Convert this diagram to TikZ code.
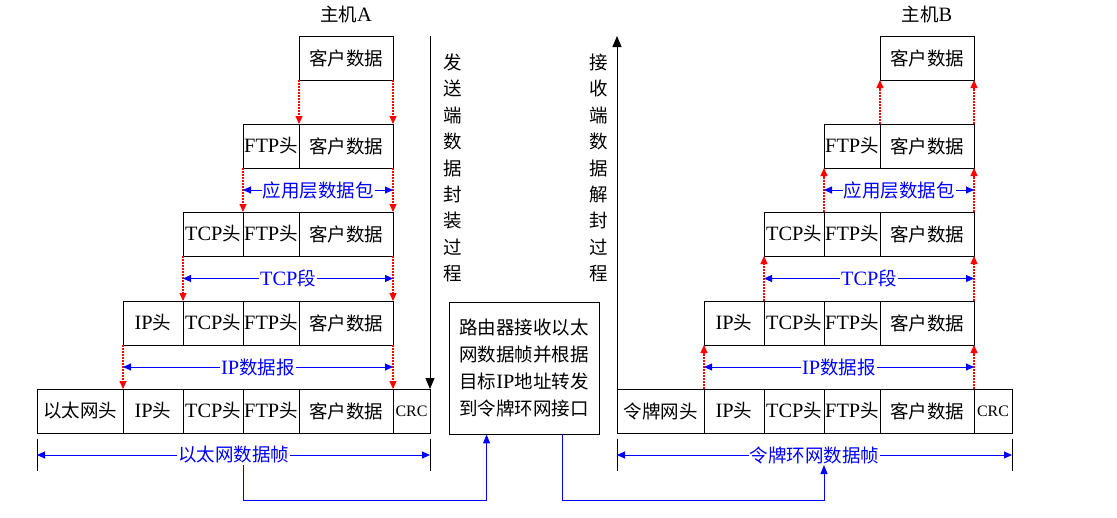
\documentclass[tikz,border=0pt]{standalone}
\usepackage{fontspec}
\setmainfont{Noto Sans CJK SC}
\newfontfamily\lat[Scale=1.1]{Liberation Serif}
\usetikzlibrary{positioning,arrows.meta,calc}
\newcommand{\en}[1]{{\lat #1}}

\begin{document}
\begin{tikzpicture}[x=1pt,y=-1pt,
  font=\fontsize{18.5}{22}\selectfont,
  cell/.style={draw,line width=0.9pt,minimum height=44pt,inner sep=0pt,outer sep=0pt},
  hd/.style={cell,minimum width=60pt},
  ftp/.style={cell,minimum width=56pt},
  dat/.style={cell,minimum width=94pt},
  crc/.style={cell,minimum width=37pt,font=\lat\fontsize{14.5}{18}\selectfont},
  frm/.style={cell,minimum width=86pt},
  router/.style={draw,line width=0.9pt,align=center,minimum width=150pt,minimum height=132pt,
    inner sep=0pt,font=\fontsize{18.5}{27}\selectfont},
  vtxt/.style={align=center,inner sep=0pt,font=\fontsize{18.5}{26.4}\selectfont},
  redarr/.style={-{Triangle[length=8pt,width=7pt]},red,line width=1.1pt,dash pattern=on 2pt off 1pt},
  dimarr/.style={{Triangle[length=8pt,width=7pt]}-{Triangle[length=8pt,width=7pt]},blue,line width=0.9pt},
  dimlbl/.style={fill=white,text=blue,inner sep=1pt},
  tickln/.style={line width=0.9pt},
  link/.style={-{Triangle[length=9pt,width=7pt]},blue,line width=1pt},
  flowarr/.style={-{Triangle[length=11pt,width=9pt]},line width=0.9pt},
]
\useasboundingbox (0,0) rectangle (1117,517);

% host A: encapsulation
\node (hosta) at (346,14) {主机\en{A}};
\node[dat] (a1d) at (346,58) {客户数据};
\node[dat,below=44pt of a1d] (a2d) {客户数据};
\node[ftp,left=0pt of a2d] (a2f) {\en{FTP}头};
\node[dat,below=44pt of a2d] (a3d) {客户数据};
\node[ftp,left=0pt of a3d] (a3f) {\en{FTP}头};
\node[hd,left=0pt of a3f] (a3t) {\en{TCP}头};
\node[dat,below=45pt of a3d] (a4d) {客户数据};
\node[ftp,left=0pt of a4d] (a4f) {\en{FTP}头};
\node[hd,left=0pt of a4f] (a4t) {\en{TCP}头};
\node[hd,left=0pt of a4t] (a4i) {\en{IP}头};
\node[dat,below=44pt of a4d] (a5d) {客户数据};
\node[ftp,left=0pt of a5d] (a5f) {\en{FTP}头};
\node[hd,left=0pt of a5f] (a5t) {\en{TCP}头};
\node[hd,left=0pt of a5t] (a5i) {\en{IP}头};
\node[frm,left=0pt of a5i] (a5e) {以太网头};
\node[crc,right=0pt of a5d] (a5c) {CRC};

\draw[redarr] (a1d.south west) -- (a2d.north west);
\draw[redarr] (a1d.south east) -- (a2d.north east);
\draw[redarr] (a2f.south west) -- (a3f.north west);
\draw[redarr] (a2d.south east) -- (a3d.north east);
\draw[redarr] (a3t.south west) -- (a4t.north west);
\draw[redarr] (a3d.south east) -- (a4d.north east);
\draw[redarr] (a4i.south west) -- (a5i.north west);
\draw[redarr] (a4d.south east) -- (a5d.north east);

\draw[dimarr] ($(a2f.south west)!.5!(a3f.north west)$) -- node[dimlbl]{应用层数据包} ($(a2d.south east)!.5!(a3d.north east)$);
\draw[dimarr] ($(a3t.south west)!.5!(a4t.north west)$) -- node[dimlbl]{\en{TCP}段} ($(a3d.south east)!.5!(a4d.north east)$);
\draw[dimarr] ($(a4i.south west)!.5!(a5i.north west)$) -- node[dimlbl]{\en{IP}数据报} ($(a4d.south east)!.5!(a5d.north east)$);
\draw[tickln] ([yshift=-6pt]a5e.south west) -- ([yshift=-38pt]a5e.south west);
\draw[tickln] ([yshift=-6pt]a5c.south east) -- ([yshift=-38pt]a5c.south east);
\draw[dimarr] ([yshift=-22pt]a5e.south west) -- node[dimlbl] (ethlbl) {以太网数据帧} ([yshift=-22pt]a5c.south east);

\draw[flowarr] (a5c.north east |- a1d.north) -- (a5c.north east);
\node[vtxt] (sendtxt) at (453,168) {发\\送\\端\\数\\据\\封\\装\\过\\程};

% router
\node[router] (router) at (524,368) {路由器接收以太\\网数据帧并根据\\目标\en{IP}地址转发\\到令牌环网接口};
\coordinate (busL) at ([yshift=-66pt]router.south);
\coordinate (rin) at ([xshift=38pt]router.south west);
\coordinate (rout) at ([xshift=-37pt]router.south east);

% host B: decapsulation
\node (hostb) at (927,14) {主机\en{B}};
\node[dat] (b1d) at (927,58) {客户数据};
\node[dat,below=44pt of b1d] (b2d) {客户数据};
\node[ftp,left=0pt of b2d] (b2f) {\en{FTP}头};
\node[dat,below=44pt of b2d] (b3d) {客户数据};
\node[ftp,left=0pt of b3d] (b3f) {\en{FTP}头};
\node[hd,left=0pt of b3f] (b3t) {\en{TCP}头};
\node[dat,below=45pt of b3d] (b4d) {客户数据};
\node[ftp,left=0pt of b4d] (b4f) {\en{FTP}头};
\node[hd,left=0pt of b4f] (b4t) {\en{TCP}头};
\node[hd,left=0pt of b4t] (b4i) {\en{IP}头};
\node[dat,below=44pt of b4d] (b5d) {客户数据};
\node[ftp,left=0pt of b5d] (b5f) {\en{FTP}头};
\node[hd,left=0pt of b5f] (b5t) {\en{TCP}头};
\node[hd,left=0pt of b5t] (b5i) {\en{IP}头};
\node[frm,minimum width=87pt,left=0pt of b5i] (b5e) {令牌网头};
\node[crc,minimum width=38pt,right=0pt of b5d] (b5c) {CRC};

\draw[redarr] (b2d.north west) -- (b1d.south west);
\draw[redarr] (b2d.north east) -- (b1d.south east);
\draw[redarr] (b3f.north west) -- (b2f.south west);
\draw[redarr] (b3d.north east) -- (b2d.south east);
\draw[redarr] (b4t.north west) -- (b3t.south west);
\draw[redarr] (b4d.north east) -- (b3d.south east);
\draw[redarr] (b5i.north west) -- (b4i.south west);
\draw[redarr] (b5d.north east) -- (b4d.south east);

\draw[dimarr] ($(b2f.south west)!.5!(b3f.north west)$) -- node[dimlbl]{应用层数据包} ($(b2d.south east)!.5!(b3d.north east)$);
\draw[dimarr] ($(b3t.south west)!.5!(b4t.north west)$) -- node[dimlbl]{\en{TCP}段} ($(b3d.south east)!.5!(b4d.north east)$);
\draw[dimarr] ($(b4i.south west)!.5!(b5i.north west)$) -- node[dimlbl]{\en{IP}数据报} ($(b4d.south east)!.5!(b5d.north east)$);
\draw[tickln] ([yshift=-6pt]b5e.south west) -- ([yshift=-38pt]b5e.south west);
\draw[tickln] ([yshift=-6pt]b5c.south east) -- ([yshift=-38pt]b5c.south east);
\draw[dimarr] ([yshift=-22pt]b5e.south west) -- node[dimlbl] (ringlbl) {令牌环网数据帧} ([yshift=-22pt]b5c.south east);

\draw[flowarr] (b5e.north west) -- (b5e.north west |- b1d.north);
\node[vtxt] (recvtxt) at (599,168) {接\\收\\端\\数\\据\\解\\封\\过\\程};

% frame path through the router
\draw[link] (ethlbl.south -| a5f.west) |- (rin |- busL) -- (rin);
\draw[link] (rout) |- (b5f.west |- busL) -- (ringlbl.south -| b5f.west);
\end{tikzpicture}
\end{document}
